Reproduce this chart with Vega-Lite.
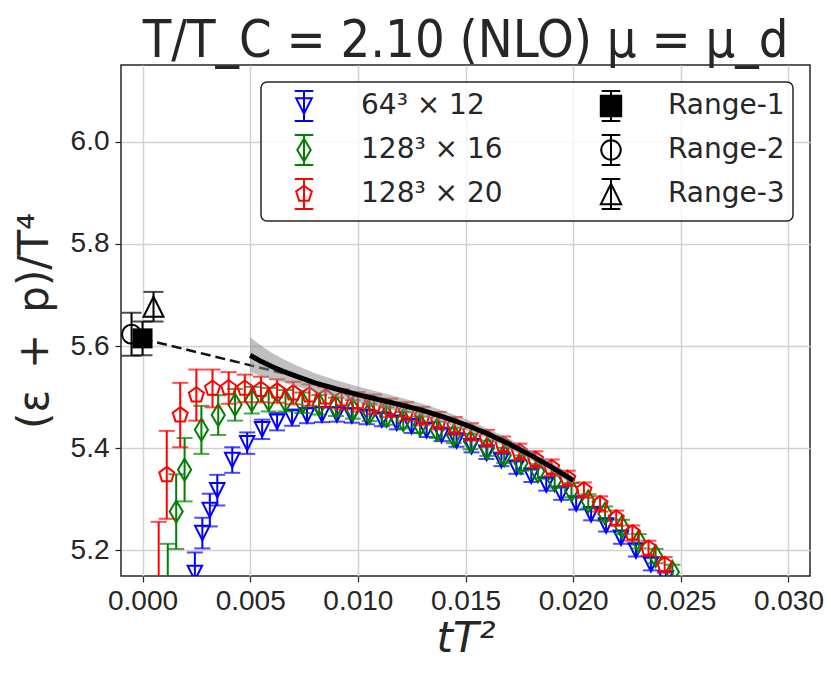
{
  "$schema": "https://vega.github.io/schema/vega-lite/v6.json",
  "width": 689,
  "height": 511,
  "autosize": {"type": "none"},
  "padding": {"left": 121, "top": 65, "right": 21, "bottom": 98},
  "background": "white",
  "title": {"text": "T/T_C = 2.10 (NLO) μ = μ_d", "font": "DejaVu Sans Condensed, DejaVu Sans", "fontSize": 52, "fontWeight": "normal", "color": "#262626", "anchor": "middle", "frame": "group", "baseline": "bottom", "offset": 0, "dy": 55},
  "datasets": {
    "lat": [
      {"s":"b","x":0.002431,"y":5.156,"e":0.040},
      {"s":"b","x":0.002778,"y":5.234,"e":0.030},
      {"s":"b","x":0.003125,"y":5.279,"e":0.032},
      {"s":"b","x":0.003472,"y":5.318,"e":0.030},
      {"s":"b","x":0.004167,"y":5.377,"e":0.025},
      {"s":"b","x":0.004861,"y":5.410,"e":0.021},
      {"s":"b","x":0.005556,"y":5.437,"e":0.019},
      {"s":"b","x":0.006250,"y":5.452,"e":0.017},
      {"s":"b","x":0.006944,"y":5.460,"e":0.016},
      {"s":"b","x":0.007639,"y":5.464,"e":0.015},
      {"s":"b","x":0.008333,"y":5.466,"e":0.015},
      {"s":"b","x":0.009028,"y":5.466,"e":0.014},
      {"s":"b","x":0.009722,"y":5.464,"e":0.014},
      {"s":"b","x":0.010417,"y":5.461,"e":0.014},
      {"s":"b","x":0.011111,"y":5.456,"e":0.013},
      {"s":"b","x":0.011806,"y":5.450,"e":0.013},
      {"s":"b","x":0.012500,"y":5.443,"e":0.013},
      {"s":"b","x":0.013194,"y":5.435,"e":0.013},
      {"s":"b","x":0.013889,"y":5.426,"e":0.012},
      {"s":"b","x":0.014583,"y":5.415,"e":0.012},
      {"s":"b","x":0.015278,"y":5.404,"e":0.012},
      {"s":"b","x":0.015972,"y":5.391,"e":0.012},
      {"s":"b","x":0.016667,"y":5.377,"e":0.012},
      {"s":"b","x":0.017361,"y":5.362,"e":0.012},
      {"s":"b","x":0.018056,"y":5.346,"e":0.012},
      {"s":"b","x":0.018750,"y":5.329,"e":0.012},
      {"s":"b","x":0.019444,"y":5.311,"e":0.012},
      {"s":"b","x":0.020139,"y":5.292,"e":0.012},
      {"s":"b","x":0.020833,"y":5.271,"e":0.012},
      {"s":"b","x":0.021528,"y":5.249,"e":0.012},
      {"s":"b","x":0.022222,"y":5.225,"e":0.012},
      {"s":"b","x":0.022917,"y":5.200,"e":0.012},
      {"s":"b","x":0.023611,"y":5.173,"e":0.012},
      {"s":"b","x":0.024306,"y":5.145,"e":0.012},
      {"s":"g","x":0.001172,"y":5.100,"e":0.113},
      {"s":"g","x":0.001563,"y":5.276,"e":0.073},
      {"s":"g","x":0.001953,"y":5.358,"e":0.062},
      {"s":"g","x":0.002734,"y":5.436,"e":0.047},
      {"s":"g","x":0.003516,"y":5.465,"e":0.039},
      {"s":"g","x":0.004297,"y":5.485,"e":0.031},
      {"s":"g","x":0.005078,"y":5.494,"e":0.026},
      {"s":"g","x":0.005859,"y":5.495,"e":0.023},
      {"s":"g","x":0.006641,"y":5.493,"e":0.021},
      {"s":"g","x":0.007422,"y":5.489,"e":0.020},
      {"s":"g","x":0.008203,"y":5.485,"e":0.019},
      {"s":"g","x":0.008984,"y":5.481,"e":0.018},
      {"s":"g","x":0.009766,"y":5.476,"e":0.018},
      {"s":"g","x":0.010547,"y":5.470,"e":0.017},
      {"s":"g","x":0.011328,"y":5.463,"e":0.017},
      {"s":"g","x":0.012109,"y":5.455,"e":0.016},
      {"s":"g","x":0.012891,"y":5.446,"e":0.016},
      {"s":"g","x":0.013672,"y":5.436,"e":0.016},
      {"s":"g","x":0.014453,"y":5.425,"e":0.015},
      {"s":"g","x":0.015234,"y":5.413,"e":0.015},
      {"s":"g","x":0.016016,"y":5.400,"e":0.015},
      {"s":"g","x":0.016797,"y":5.386,"e":0.015},
      {"s":"g","x":0.017578,"y":5.371,"e":0.015},
      {"s":"g","x":0.018359,"y":5.355,"e":0.014},
      {"s":"g","x":0.019141,"y":5.337,"e":0.014},
      {"s":"g","x":0.019922,"y":5.318,"e":0.014},
      {"s":"g","x":0.020703,"y":5.296,"e":0.014},
      {"s":"g","x":0.021484,"y":5.272,"e":0.014},
      {"s":"g","x":0.022266,"y":5.246,"e":0.014},
      {"s":"g","x":0.023047,"y":5.218,"e":0.014},
      {"s":"g","x":0.023828,"y":5.189,"e":0.014},
      {"s":"g","x":0.024609,"y":5.158,"e":0.014},
      {"s":"r","x":0.000750,"y":5.120,"e":0.136},
      {"s":"r","x":0.001125,"y":5.348,"e":0.086},
      {"s":"r","x":0.001750,"y":5.465,"e":0.063},
      {"s":"r","x":0.002500,"y":5.504,"e":0.050},
      {"s":"r","x":0.003250,"y":5.517,"e":0.037},
      {"s":"r","x":0.004000,"y":5.518,"e":0.031},
      {"s":"r","x":0.004750,"y":5.517,"e":0.027},
      {"s":"r","x":0.005500,"y":5.515,"e":0.025},
      {"s":"r","x":0.006250,"y":5.512,"e":0.023},
      {"s":"r","x":0.007000,"y":5.508,"e":0.022},
      {"s":"r","x":0.007750,"y":5.504,"e":0.021},
      {"s":"r","x":0.008500,"y":5.500,"e":0.020},
      {"s":"r","x":0.009250,"y":5.496,"e":0.020},
      {"s":"r","x":0.010000,"y":5.491,"e":0.019},
      {"s":"r","x":0.010750,"y":5.486,"e":0.019},
      {"s":"r","x":0.011500,"y":5.479,"e":0.018},
      {"s":"r","x":0.012250,"y":5.472,"e":0.018},
      {"s":"r","x":0.013000,"y":5.463,"e":0.018},
      {"s":"r","x":0.013750,"y":5.454,"e":0.017},
      {"s":"r","x":0.014500,"y":5.444,"e":0.017},
      {"s":"r","x":0.015250,"y":5.432,"e":0.017},
      {"s":"r","x":0.016000,"y":5.420,"e":0.016},
      {"s":"r","x":0.016750,"y":5.407,"e":0.016},
      {"s":"r","x":0.017500,"y":5.393,"e":0.016},
      {"s":"r","x":0.018250,"y":5.378,"e":0.016},
      {"s":"r","x":0.019000,"y":5.362,"e":0.016},
      {"s":"r","x":0.019750,"y":5.341,"e":0.015},
      {"s":"r","x":0.020500,"y":5.318,"e":0.015},
      {"s":"r","x":0.021250,"y":5.291,"e":0.015},
      {"s":"r","x":0.022000,"y":5.263,"e":0.015},
      {"s":"r","x":0.022750,"y":5.234,"e":0.015},
      {"s":"r","x":0.023500,"y":5.204,"e":0.015},
      {"s":"r","x":0.024250,"y":5.172,"e":0.015}
    ],
    "fit": [
      {"x":0.0050,"y":5.582,"lo":5.549,"hi":5.617},
      {"x":0.0055,"y":5.570,"lo":5.541,"hi":5.601},
      {"x":0.0060,"y":5.560,"lo":5.535,"hi":5.587},
      {"x":0.0065,"y":5.551,"lo":5.529,"hi":5.575},
      {"x":0.0070,"y":5.543,"lo":5.523,"hi":5.565},
      {"x":0.0080,"y":5.528,"lo":5.511,"hi":5.547},
      {"x":0.0090,"y":5.516,"lo":5.500,"hi":5.533},
      {"x":0.0100,"y":5.505,"lo":5.489,"hi":5.521},
      {"x":0.0110,"y":5.495,"lo":5.480,"hi":5.510},
      {"x":0.0120,"y":5.485,"lo":5.472,"hi":5.499},
      {"x":0.0130,"y":5.474,"lo":5.462,"hi":5.487},
      {"x":0.0140,"y":5.461,"lo":5.450,"hi":5.473},
      {"x":0.0150,"y":5.446,"lo":5.436,"hi":5.457},
      {"x":0.0160,"y":5.429,"lo":5.419,"hi":5.439},
      {"x":0.0170,"y":5.409,"lo":5.400,"hi":5.419},
      {"x":0.0180,"y":5.387,"lo":5.378,"hi":5.396},
      {"x":0.0190,"y":5.363,"lo":5.354,"hi":5.372},
      {"x":0.0200,"y":5.337,"lo":5.328,"hi":5.346}
    ],
    "dash": [
      {"x":0.0,"y":5.614},
      {"x":0.0065,"y":5.547}
    ],
    "range": [
      {"s":"R2","x":-0.00051,"y":5.623,"e":0.042},
      {"s":"R3","x":0.00051,"y":5.677,"e":0.029},
      {"s":"R1","x":0.0,"y":5.615,"e":0.033}
    ]
  },
  "encoding": {
    "x": {"field":"x","type":"quantitative","scale":{"domain":[-0.001,0.031],"nice":false,"zero":false},
      "axis":{"title":"tT²","values":[0,0.005,0.01,0.015,0.02,0.025,0.03],"format":".3f","titleFontStyle":"italic","titleFontSize":42,"titleFont":"DejaVu Sans","labelPadding":5,"titlePadding":3}},
    "y": {"field":"y","type":"quantitative","scale":{"domain":[5.15,6.15],"nice":false,"zero":false},
      "axis":{"title":"(ε\u2002+\u2002p)/T⁴","values":[5.2,5.4,5.6,5.8,6.0],"format":".1f","titleFontSize":42,"titleFont":"DejaVu Sans","labelPadding":6,"titlePadding":14}}
  },
  "layer": [
    {"data":{"name":"lat"},"transform":[{"filter":"datum.s==='b'"}],"layer":[
      {"mark":{"type":"errorbar","color":"#0000ff","clip":true,"ticks":{"size":16,"thickness":2},"rule":{"strokeWidth":2}},
       "encoding":{"yError":{"field":"e"}}},
      {"mark":{"type":"point","shape":"M-1,-1L1,-1L0,1Z","size":210,"filled":false,"stroke":"#0000ff","strokeWidth":2,"opacity":1,"clip":true}}
    ]},
    {"data":{"name":"lat"},"transform":[{"filter":"datum.s==='g'"}],"layer":[
      {"mark":{"type":"errorbar","color":"#008000","clip":true,"ticks":{"size":16,"thickness":2},"rule":{"strokeWidth":2}},
       "encoding":{"yError":{"field":"e"}}},
      {"mark":{"type":"point","shape":"M0,-1L0.6,0L0,1L-0.6,0Z","size":484,"filled":false,"stroke":"#008000","strokeWidth":2,"opacity":1,"clip":true}}
    ]},
    {"data":{"name":"lat"},"transform":[{"filter":"datum.s==='r'"}],"layer":[
      {"mark":{"type":"errorbar","color":"#ff0000","clip":true,"ticks":{"size":16,"thickness":2},"rule":{"strokeWidth":2}},
       "encoding":{"yError":{"field":"e"}}},
      {"mark":{"type":"point","shape":"M0,-1L0.951,-0.309L0.588,0.809L-0.588,0.809L-0.951,-0.309Z","size":250,"filled":false,"stroke":"#ff0000","strokeWidth":2,"opacity":1,"clip":true}}
    ]},
    {"data":{"name":"dash"},"mark":{"type":"line","color":"#111111","strokeWidth":2.5,"strokeDash":[10,5],"clip":true},"encoding":{}},
    {"data":{"name":"fit"},"mark":{"type":"area","color":"#8c8c8c","opacity":0.55,"clip":true},
     "encoding":{"y":{"field":"lo","type":"quantitative","title":"(ε\u2002+\u2002p)/T⁴"},"y2":{"field":"hi"}}},
    {"data":{"name":"fit"},"mark":{"type":"line","color":"#000000","strokeWidth":5,"clip":true},"encoding":{}},
    {"data":{"name":"range"},"layer":[
      {"mark":{"type":"errorbar","color":"#000000","clip":true,"ticks":{"size":20,"thickness":2},"rule":{"strokeWidth":2}},
       "encoding":{"yError":{"field":"e"}}},
      {"transform":[{"filter":"datum.s==='R2'"}],"mark":{"type":"point","shape":"circle","size":361,"filled":false,"stroke":"#000000","strokeWidth":2,"opacity":1,"clip":true}},
      {"transform":[{"filter":"datum.s==='R3'"}],"mark":{"type":"point","shape":"M0,-1L1,1L-1,1Z","size":400,"filled":false,"stroke":"#000000","strokeWidth":2,"opacity":1,"clip":true}},
      {"transform":[{"filter":"datum.s==='R1'"}],"mark":{"type":"point","shape":"square","size":400,"filled":true,"color":"#000000","opacity":1,"clip":true}}
    ]},
    {"data":{"name":"lat"},"transform":[{"filter":"false"}],
     "mark":{"type":"point","filled":false,"opacity":0},
     "encoding":{
       "shape":{"field":"leg","type":"nominal","title":null,"scale":{"domain":["64³ × 12","128³ × 16","128³ × 20","Range-1","Range-2","Range-3"],
         "range":[
           "M-0.62,-1H0.62M0,-1V1M-0.62,1H0.62M-0.52,-0.52H0.52L0,0.52Z",
           "M-0.62,-1H0.62M0,-1V1M-0.62,1H0.62M0,-0.75L0.45,0L0,0.75L-0.45,0Z",
           "M-0.62,-1H0.62M0,-1V1M-0.62,1H0.62M0,-0.55L0.523,-0.17L0.323,0.445L-0.323,0.445L-0.523,-0.17Z",
           "M-0.62,-1H0.62M0,-1V1M-0.62,1H0.62M-0.68,-0.68H0.68V0.68H-0.68Z",
           "M-0.62,-1H0.62M0,-1V1M-0.62,1H0.62M0.65,0A0.65,0.65,0,1,1,-0.65,0A0.65,0.65,0,1,1,0.65,0Z",
           "M-0.62,-1H0.62M0,-1V1M-0.62,1H0.62M0,-0.68L0.68,0.68H-0.68Z"
         ]}},
       "stroke":{"field":"leg","type":"nominal","title":null,"scale":{"domain":["64³ × 12","128³ × 16","128³ × 20","Range-1","Range-2","Range-3"],
         "range":["#0000ff","#008000","#ff0000","#000000","#000000","#000000"]}},
       "fill":{"field":"leg","type":"nominal","title":null,"scale":{"domain":["64³ × 12","128³ × 16","128³ × 20","Range-1","Range-2","Range-3"],
         "range":["transparent","transparent","transparent","#000000","transparent","transparent"]}}
     }}
  ],
  "config": {
    "view": {"stroke": "#262626", "strokeWidth": 1.5},
    "axis": {"domain": false, "grid": true, "gridColor": "#d2d2d2", "gridWidth": 1.5, "tickColor": "#262626", "tickSize": 6, "tickWidth": 1.25,
      "labelFont": "Liberation Sans", "labelFontSize": 28, "labelColor": "#262626", "titleColor": "#262626", "titleFontWeight": "normal"},
    "legend": {"orient": "top-right", "offset": 17, "columns": 2, "gridAlign": "each", "padding": 8, "symbolOffset": 19, "symbolSize": 900,
      "symbolStrokeWidth": 2, "symbolOpacity": 1, "labelOffset": 41, "rowPadding": 6, "columnPadding": 73,
      "labelFont": "DejaVu Sans", "labelFontSize": 28, "labelColor": "#262626", "labelLimit": 300,
      "strokeColor": "#262626", "strokeWidth": 1.5, "cornerRadius": 6, "fillColor": "rgba(255,255,255,0.8)"}
  }
}
